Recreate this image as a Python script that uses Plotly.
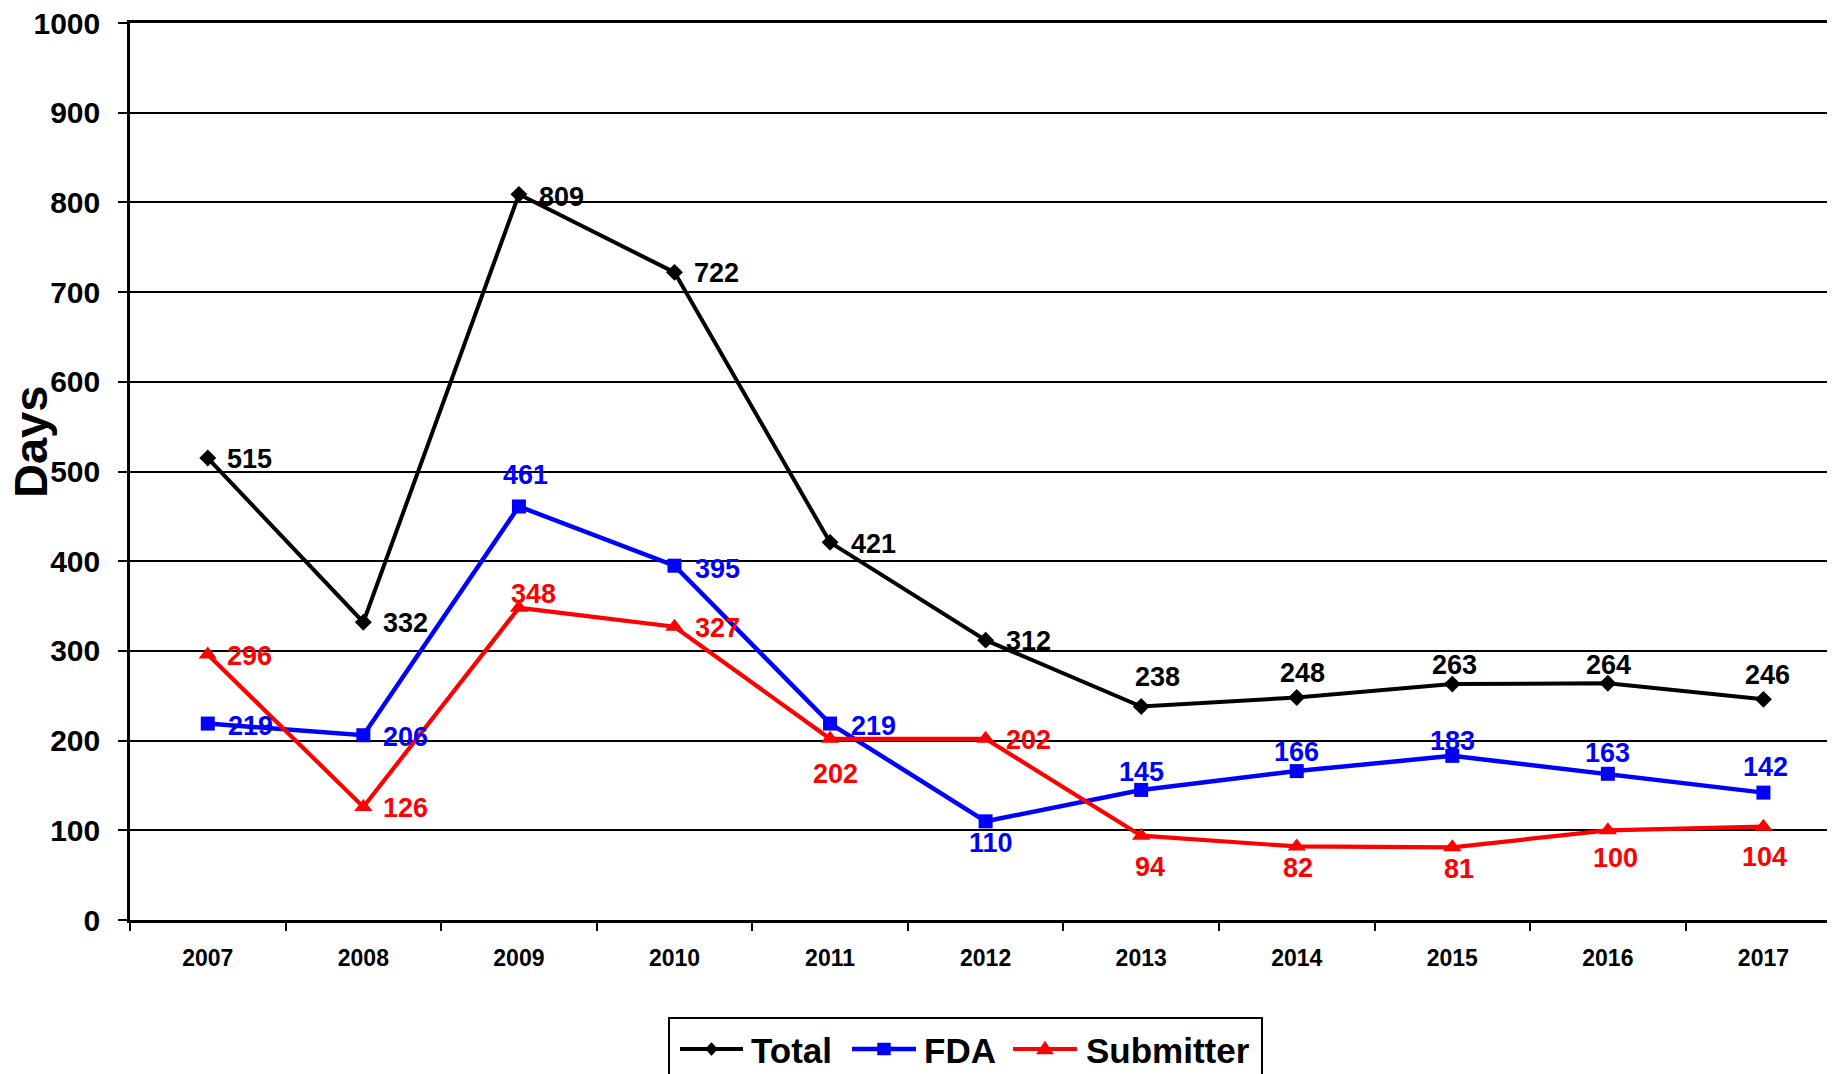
import plotly.graph_objects as go

years = ["2007", "2008", "2009", "2010", "2011", "2012", "2013", "2014", "2015", "2016", "2017"]
total = [515, 332, 809, 722, 421, 312, 238, 248, 263, 264, 246]
fda = [219, 206, 461, 395, 219, 110, 145, 166, 183, 163, 142]
submitter = [296, 126, 348, 327, 202, 202, 94, 82, 81, 100, 104]

y_ticks = list(range(0, 1001, 100))
series_names = ["Total", "FDA", "Submitter"]

# label placement (style only): position code, x offset px, y offset px (down positive)
total_lbl = [("r", 20, 1), ("r", 21, 1), ("r", 21, 3), ("r", 21, 1), ("r", 22, 2), ("r", 21, 1),
             ("t", 16, -30), ("t", 6, -25), ("t", 2, -19), ("t", 1, -18), ("t", 4, -24)]
fda_lbl = [("r", 21, 2), ("r", 21, 2), ("t", 7, -31), ("r", 22, 3), ("r", 22, 2), ("b", 5, 22),
           ("t", 0, -18), ("t", 0, -19), ("t", 0, -15), ("t", 0, -21), ("t", 2, -26)]
sub_lbl = [("r", 20, 2), ("r", 21, 1), ("t", 15, -14), ("r", 22, 1), ("b", 5, 35), ("r", 21, 1),
           ("b", 9, 31), ("b", 1, 22), ("b", 7, 22), ("b", 8, 28), ("b", 1, 30)]

FONT = "Arial, 'Liberation Sans', sans-serif"
BLACK, BLUE, RED = "#000000", "#0000FF", "#FF0000"

# page body has an 8px margin: work in screen px, convert to figure px
OFF = 8
W, H = 1835 - OFF, 1074 - OFF
PL, PR, PT, PB = 130, 1835, 23, 920  # plot area in screen px


def px(xs):
    return (xs - PL) / (PR - PL)


def py(ys):
    return (PB - ys) / (PB - PT)


fig = go.Figure()
fig.add_trace(go.Scatter(x=years, y=total, name="Total", mode="lines+markers",
                         line=dict(color=BLACK, width=4),
                         marker=dict(symbol="diamond", size=13, color=BLACK)))
fig.add_trace(go.Scatter(x=years, y=fda, name="FDA", mode="lines+markers",
                         line=dict(color=BLUE, width=4.5),
                         marker=dict(symbol="square", size=14, color=BLUE)))
fig.add_trace(go.Scatter(x=years, y=submitter, name="Submitter", mode="lines+markers",
                         line=dict(color=RED, width=4.2),
                         marker=dict(symbol="triangle-up", size=16, color=RED)))

annotations = []
for vals, lbls, col in [(total, total_lbl, BLACK), (fda, fda_lbl, BLUE), (submitter, sub_lbl, RED)]:
    for i, (v, (p, dx, dy)) in enumerate(zip(vals, lbls)):
        annotations.append(dict(
            x=i, y=v, xref="x", yref="y", text=str(v), showarrow=False,
            xanchor="left" if p == "r" else "center", yanchor="middle",
            xshift=dx - 2 if p == "r" else dx, yshift=-dy,
            font=dict(family=FONT, size=27, color=col, weight="bold"),
            borderpad=0))

annotations.append(dict(
    text="Days", textangle=-90, xref="paper", yref="paper",
    x=px(31), y=py(442), xanchor="center", yanchor="middle",
    showarrow=False, font=dict(family=FONT, size=47, color=BLACK, weight="bold")))

# manual legend (box, line samples, marker glyphs, labels)
shapes = [dict(type="rect", xref="paper", yref="paper", x0=px(669), x1=px(1262),
               y0=py(1018), y1=py(1100), line=dict(color=BLACK, width=2),
               fillcolor="white", layer="above")]
leg_y = 1049
leg_lines = [(680, 743, BLACK, 4), (852, 916, BLUE, 4.5), (1013, 1077, RED, 4.2)]
for x0, x1, col, lw in leg_lines:
    shapes.append(dict(type="line", xref="paper", yref="paper", x0=px(x0), x1=px(x1),
                       y0=py(leg_y), y1=py(leg_y), line=dict(color=col, width=lw), layer="above"))
glyphs = [
    ((680 + 743) / 2, "M-6,0 L0,6.5 L6,0 L0,-6.5 Z", BLACK),
    ((852 + 916) / 2, "M-6.5,-6 L6.5,-6 L6.5,6 L-6.5,6 Z", BLUE),
    ((1013 + 1077) / 2, "M-8.5,-5 L8.5,-5 L0,8 Z", RED),
]
for xc, path, col in glyphs:
    shapes.append(dict(type="path", xref="paper", yref="paper", xsizemode="pixel",
                       ysizemode="pixel", xanchor=px(xc), yanchor=py(leg_y), path=path,
                       fillcolor=col, line=dict(color=col, width=0.5), layer="above"))
leg_text = [(750, "Total"), (923, "FDA"), (1085, "Submitter")]
for xl, t in leg_text:
    annotations.append(dict(text=t, xref="paper", yref="paper", x=px(xl), y=py(leg_y + 1),
                            xanchor="left", yanchor="middle", showarrow=False, borderpad=0,
                            font=dict(family=FONT, size=35, color=BLACK, weight="bold")))

fig.update_layout(
    width=W, height=H,
    margin=dict(l=PL - OFF, r=0, t=PT - OFF, b=H - (PB - OFF), autoexpand=False),
    paper_bgcolor="white", plot_bgcolor="white",
    font=dict(family=FONT, color=BLACK),
    showlegend=False,
    annotations=annotations,
    shapes=shapes,
)
fig.update_xaxes(type="category", categoryorder="array", categoryarray=years,
                 range=[-0.5, 10.46], tickson="boundaries",
                 ticks="outside", ticklen=8, tickwidth=2, tickcolor=BLACK,
                 showline=True, linecolor=BLACK, linewidth=2.5, showgrid=False, mirror=True,
                 ticklabelstandoff=16, ticklabeloverflow="allow",
                 tickfont=dict(family=FONT, size=23, color=BLACK, weight="bold"))
fig.update_yaxes(range=[0, 1000], tickvals=y_ticks, ticks="outside", ticklen=9,
                 tickwidth=2, tickcolor=BLACK, showline=True, linecolor=BLACK, linewidth=2.5,
                 showgrid=True, gridcolor=BLACK, gridwidth=2, zeroline=False,
                 ticklabelstandoff=12, ticklabeloverflow="allow",
                 tickfont=dict(family=FONT, size=30, color=BLACK, weight="bold"))

fig.write_html("out.html")
